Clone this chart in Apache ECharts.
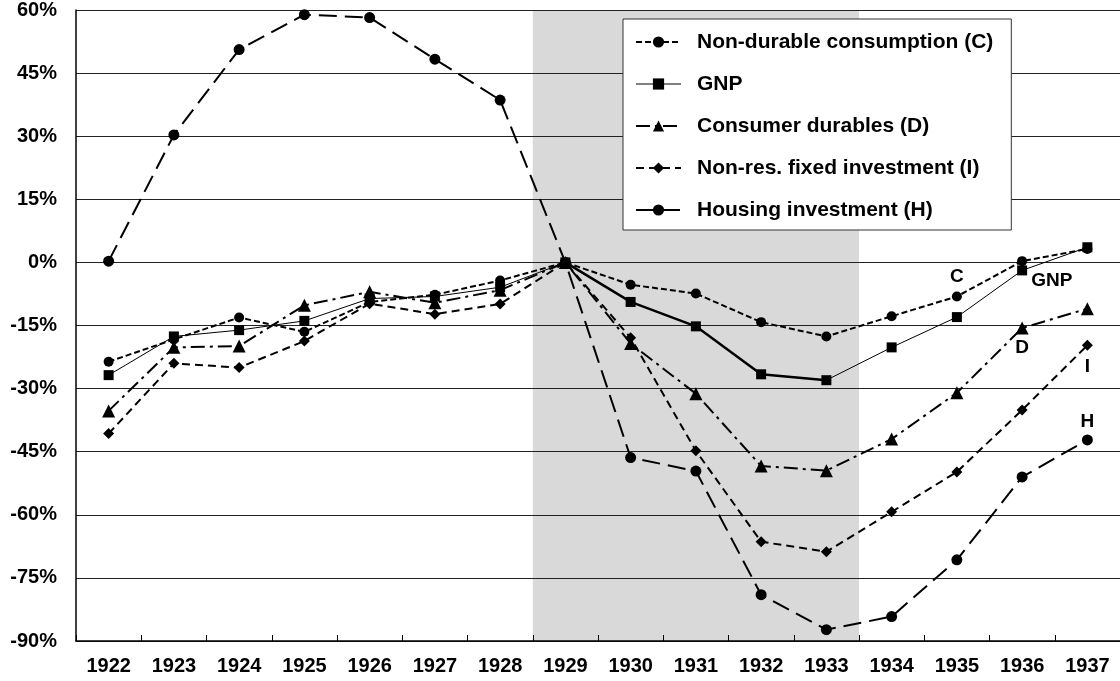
<!DOCTYPE html>
<html>
<head>
<meta charset="utf-8">
<title>Components of GNP, 1922-1937</title>
<script src="https://cdn.jsdelivr.net/npm/echarts@6/dist/echarts.min.js"></script>
<style>
  html, body { margin: 0; padding: 0; background: #fff; }
  #main { width: 1120px; height: 681px; }
</style>
</head>
<body>
<div id="main"></div>
<script>
// years on the x axis
var years = ['1922', '1923', '1924', '1925', '1926', '1927', '1928', '1929',
             '1930', '1931', '1932', '1933', '1934', '1935', '1936', '1937'];

// % change relative to 1929
var consumption = [-23.6, -18.3, -13.1, -16.5, -9.4, -7.7, -4.3, 0, -5.3, -7.4, -14.2, -17.6, -12.8, -8.1, 0.3, 3.2];
var gnp = [-26.8, -17.6, -16.1, -13.9, -8.6, -8.1, -5.9, 0, -9.4, -15.2, -26.6, -28.0, -20.2, -13.0, -1.9, 3.6];
var durables = [-35.3, -20.2, -19.9, -10.2, -7.0, -9.6, -6.6, 0, -19.3, -31.2, -48.4, -49.5, -42.0, -31.0, -15.6, -11.0];
var investment = [-40.7, -24.0, -25.0, -18.7, -9.8, -12.3, -9.9, 0, -17.9, -44.8, -66.4, -68.8, -59.3, -49.8, -35.1, -19.7];
var housing = [0.3, 30.3, 50.6, 58.9, 58.2, 48.3, 38.6, 0, -46.4, -49.6, -79.0, -87.3, -84.2, -70.7, -51.0, -42.2];

// series names and short tags
var names = ['Non-durable consumption (C)', 'GNP', 'Consumer durables (D)',
             'Non-res. fixed investment (I)', 'Housing investment (H)'];
var tags = ['C', 'GNP', 'D', 'I', 'H'];
var tagYears = ['1935', '1936', '1936', '1937', '1937'];

// shaded recession years
var recessionStart = '1929';
var recessionEnd = '1933';

var yMin = -90, yMax = 60, yStep = 15;

var FONT = 'Liberation Sans, Arial, sans-serif';

// put a text tag on one point of a series
function tagged(values, k, labelOpts) {
  var at = years.indexOf(tagYears[k]);
  return values.map(function (v, i) {
    if (i !== at) return v;
    return {
      value: v,
      label: Object.assign({
        show: true,
        formatter: tags[k],
        color: '#000',
        fontFamily: FONT,
        fontWeight: 'bold',
        fontSize: 19
      }, labelOpts)
    };
  });
}

var s0 = years.indexOf(recessionStart), s1 = years.indexOf(recessionEnd);
// thick GNP segment during the recession
var gnpThick = gnp.map(function (v, i) { return (i >= s0 && i <= s1) ? v : null; });

var chart = echarts.init(document.getElementById('main'), null, { renderer: 'canvas' });

var option = {
  animation: false,
  backgroundColor: '#fff',
  grid: {
    left: 76,
    right: 0,
    top: 9,
    bottom: 40
  },
  legend: {
    orient: 'vertical',
    left: 623,
    top: 19,
    data: [
      names[0],
      { name: names[1], lineStyle: { width: 1 } },
      names[2],
      names[3],
      names[4]
    ],
    itemWidth: 45,
    itemHeight: 14,
    itemGap: 18,
    padding: [11, 18, 8, 12],
    backgroundColor: '#fff',
    borderColor: '#333',
    borderWidth: 1,
    selectedMode: false,
    z: 10,
    textStyle: {
      color: '#000',
      fontFamily: FONT,
      fontWeight: 'bold',
      fontSize: 21,
      lineHeight: 24,
      padding: [0, 0, 0, 11]
    }
  },
  xAxis: [
    {
      type: 'category',
      data: years,
      boundaryGap: true,
      z: 3,
      axisLine: { onZero: false, lineStyle: { color: '#000', width: 1.5 } },
      axisTick: { show: true, inside: true, length: 6, lineStyle: { color: '#000' } },
      axisLabel: {
        color: '#000',
        fontFamily: FONT,
        fontWeight: 'bold',
        fontSize: 20,
        margin: 15
      },
      splitLine: { show: false }
    },
    {
      // hidden helper axis in category-index units, used for the shading
      type: 'value',
      min: -0.5,
      max: years.length - 0.5,
      show: false
    }
  ],
  yAxis: {
    type: 'value',
    min: yMin,
    max: yMax,
    interval: yStep,
    z: 3,
    axisLine: { show: true, onZero: false, lineStyle: { color: '#000', width: 1.5 } },
    axisTick: { show: false },
    axisLabel: {
      formatter: '{value}%',
      color: '#000',
      fontFamily: FONT,
      fontWeight: 'bold',
      fontSize: 20,
      margin: 19
    },
    splitLine: { show: true, lineStyle: { color: '#222', width: 1.2 } }
  },
  series: [
    {
      name: 'recession',
      type: 'line',
      xAxisIndex: 1,
      data: [],
      silent: true,
      z: 1,
      markArea: {
        silent: true,
        itemStyle: { color: '#d9d9d9' },
        data: [[{ xAxis: s0 - 0.5 }, { xAxis: s1 + 0.5 }]]
      }
    },
    {
      name: names[0],
      type: 'line',
      data: tagged(consumption, 0, { position: 'top', distance: 5 }),
      symbol: 'circle',
      symbolSize: 10,
      itemStyle: { color: '#000' },
      lineStyle: { color: '#000', width: 2, type: [6, 3] },
      z: 5
    },
    {
      name: names[1],
      type: 'line',
      data: tagged(gnp, 1, { position: 'right', distance: 4, offset: [0, 10] }),
      symbol: 'rect',
      symbolSize: 10,
      itemStyle: { color: '#000' },
      lineStyle: { color: '#000', width: 1 },
      z: 6
    },
    {
      name: 'GNP recession',
      type: 'line',
      data: gnpThick,
      symbol: 'none',
      lineStyle: { color: '#000', width: 2.5 },
      silent: true,
      z: 6
    },
    {
      name: names[2],
      type: 'line',
      data: tagged(durables, 2, { position: 'bottom', distance: 4 }),
      symbol: 'triangle',
      symbolSize: 13,
      itemStyle: { color: '#000' },
      lineStyle: { color: '#000', width: 2, type: [14, 5, 3, 5] },
      z: 5
    },
    {
      name: names[3],
      type: 'line',
      data: tagged(investment, 3, { position: 'bottom', distance: 6 }),
      symbol: 'diamond',
      symbolSize: 11,
      itemStyle: { color: '#000' },
      lineStyle: { color: '#000', width: 2, type: [8, 5] },
      z: 5
    },
    {
      name: names[4],
      type: 'line',
      data: tagged(housing, 4, { position: 'top', distance: 3 }),
      symbol: 'circle',
      symbolSize: 11,
      itemStyle: { color: '#000' },
      lineStyle: { color: '#000', width: 2, type: [18, 8] },
      z: 5
    }
  ]
};

chart.setOption(option);
</script>
</body>
</html>
